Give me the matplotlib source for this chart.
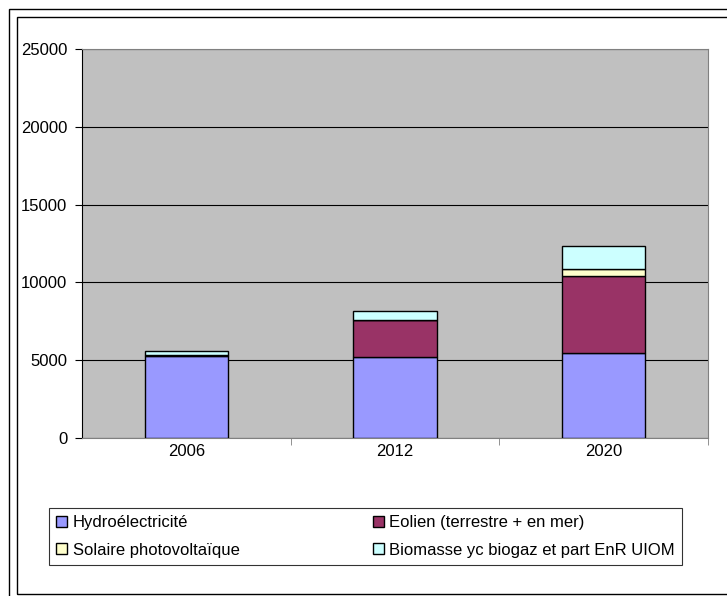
import matplotlib
matplotlib.use("Agg")
import matplotlib.pyplot as plt
from matplotlib.patches import Rectangle
import numpy as np

plt.rcParams['font.family'] = ['Liberation Sans', 'DejaVu Sans']

years = ['2006', '2012', '2020']
series = ['Hydroélectricité', 'Eolien (terrestre + en mer)',
          'Solaire photovoltaïque', 'Biomasse yc biogaz et part EnR UIOM']
hydro = [5250, 5225, 5440]
eolien = [100, 2360, 4990]
solaire = [10, 20, 450]
biomasse = [250, 580, 1480]
colors = ['#9999FF', '#993366', '#FFFFCC', '#CCFFFF']
yticks = [0, 5000, 10000, 15000, 20000, 25000]

W, H = 727, 596
fig = plt.figure(figsize=(W / 100, H / 100), dpi=100)
fig.patch.set_facecolor('white')

def px_rect(x0, y0, x1, y1, lw):
    fig.add_artist(Rectangle((x0 / W, 1 - y1 / H), (x1 - x0) / W, (y1 - y0) / H,
                             transform=fig.transFigure, fill=False,
                             edgecolor='black', linewidth=lw, clip_on=False))
px_rect(8.5, 9, 740, 620, 1.0)
px_rect(16.5, 16.5, 735, 594, 1.0)

left, right, top, bottom = 82, 708, 49, 438
ax = fig.add_axes([left / W, 1 - bottom / H, (right - left) / W, (bottom - top) / H])
ax.set_facecolor('#C0C0C0')

x = np.arange(len(years))
data = [hydro, eolien, solaire, biomasse]
base = np.zeros(len(years))
handles = []
for vals, c, lab in zip(data, colors, series):
    b = ax.bar(x, vals, width=0.4, bottom=base, color=c, edgecolor='black',
               linewidth=1.0, label=lab, zorder=3)
    handles.append(b)
    base = base + np.array(vals)

ax.set_xlim(-0.5, 2.5)
ax.set_ylim(0, 25000)
ax.set_yticks(yticks)
ax.set_yticklabels([str(v) for v in yticks], fontsize=12)
ax.yaxis.grid(True, color='black', linewidth=0.8, zorder=1)
ax.set_axisbelow(True)

ax.set_xticks(x)
ax.set_xticklabels(years, fontsize=12)
ax.tick_params(axis='x', which='major', length=0, pad=4)
ax.set_xticks([0.5, 1.5, 2.5], minor=True)
ax.tick_params(axis='x', which='minor', length=5, direction='out', color='#808080')
ax.tick_params(axis='y', length=5, direction='out', pad=5.5)

ax.spines['left'].set_color('black')
ax.spines['bottom'].set_color('#808080')
ax.spines['top'].set_color('#808080')
ax.spines['right'].set_color('#808080')

order = [0, 2, 1, 3]
lx0, lx1, ly0, ly1 = 49, 682, 508, 563
leg = fig.legend([handles[i] for i in order], [series[i] for i in order],
                 ncol=2, loc='upper left', mode='expand',
                 bbox_to_anchor=(lx0 / W, 1 - ly1 / H, (lx1 - lx0) / W, (ly1 - ly0) / H),
                 bbox_transform=fig.transFigure,
                 frameon=True, fancybox=False, shadow=False, fontsize=12,
                 handlelength=0.65, handleheight=0.65, handletextpad=0.35,
                 labelspacing=0.75, borderpad=0.42, borderaxespad=0)
leg.get_frame().set_edgecolor('black')
leg.get_frame().set_linewidth(0.8)

fig.savefig('out.png', dpi=100)
